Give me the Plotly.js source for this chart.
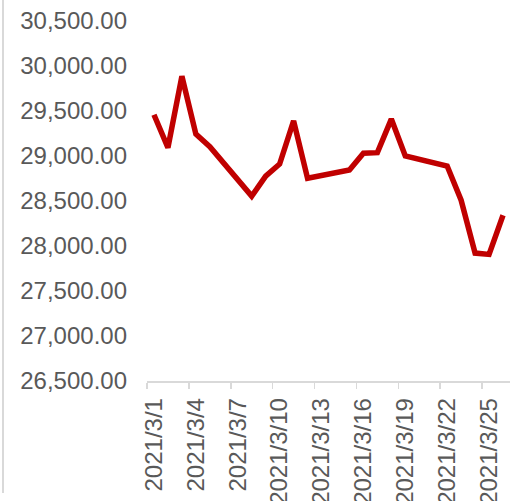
<!DOCTYPE html>
<html>
<head>
<meta charset="utf-8">
<script src="https://cdn.plot.ly/plotly-3.0.1.min.js"></script>
<style>html,body{margin:0;padding:0;background:#fff;}#chart{width:520px;height:501px;}</style>
</head>
<body>
<div id="chart"></div>
<script>
const dates = ['2021-03-01','2021-03-02','2021-03-03','2021-03-04','2021-03-05',
  '2021-03-08','2021-03-09','2021-03-10','2021-03-11','2021-03-12',
  '2021-03-15','2021-03-16','2021-03-17','2021-03-18','2021-03-19',
  '2021-03-22','2021-03-23','2021-03-24','2021-03-25','2021-03-26'];
const values = [29458, 29093, 29886, 29243, 29104,
  28554, 28777, 28911, 29391, 28752,
  28844, 29031, 29037, 29410, 29001,
  28889, 28509, 27921, 27907, 28342];
const tickDates = ['2021-03-01','2021-03-04','2021-03-07','2021-03-10','2021-03-13','2021-03-16','2021-03-19','2021-03-22','2021-03-25'];
const tickLabels = ['2021/3/1','2021/3/4','2021/3/7','2021/3/10','2021/3/13','2021/3/16','2021/3/19','2021/3/22','2021/3/25'];

const font = {family: 'Liberation Sans, Arial, sans-serif', size: 24, color: '#595959'};

Plotly.newPlot('chart', [{
  x: dates, y: values, type: 'scatter', mode: 'lines',
  line: {color: '#c00000', width: 5.5, shape: 'linear'},
  hoverinfo: 'skip'
}], {
  width: 520, height: 501,
  margin: {l: 147, r: 10, t: 21, b: 120},
  paper_bgcolor: '#ffffff', plot_bgcolor: '#ffffff',
  showlegend: false,
  font: font,
  xaxis: {
    type: 'date',
    range: ['2021-02-28 12:00', '2021-03-26 12:00'],
    tickmode: 'array', tickvals: tickDates, ticktext: tickLabels,
    tickangle: -90, ticks: '', tickfont: font,
    ticklabelstandoff: 6,
    showgrid: false, zeroline: false,
    showline: true, linecolor: '#d9d9d9', linewidth: 1.5,
    minor: {ticks: 'outside', tick0: '2021-02-28 12:00', dtick: 3*86400000, ticklen: 6, tickcolor: '#d9d9d9', tickwidth: 1.5, showgrid: false}
  },
  yaxis: {
    range: [26500, 30500], dtick: 500, tick0: 26500,
    tickformat: ',.2f', tickfont: font,
    showgrid: false, zeroline: false, showline: false, ticks: '',
    ticklabelstandoff: 19
  },
  shapes: [{
    type: 'line', xref: 'paper', yref: 'paper',
    x0: -0.3967, x1: -0.3967, y0: 1.06, y1: -0.311,
    line: {color: '#d9d9d9', width: 2}
  }]
}, {staticPlot: true});
</script>
</body>
</html>
